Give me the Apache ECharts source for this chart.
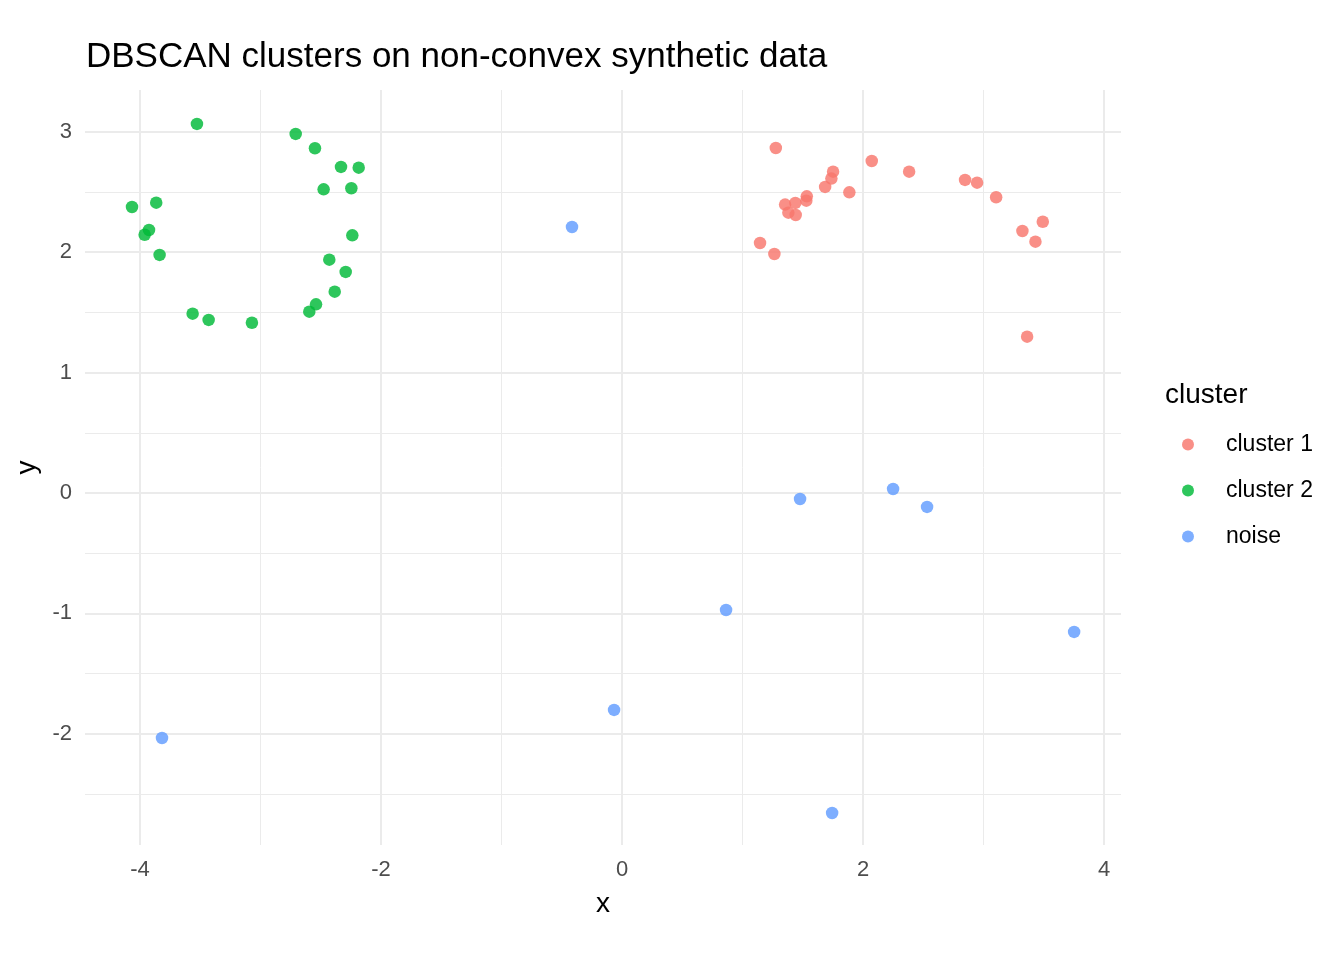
<!DOCTYPE html>
<html>
<head>
<meta charset="utf-8">
<script src="https://cdn.jsdelivr.net/npm/echarts@6/dist/echarts.min.js"></script>
<style>
  html, body { margin: 0; padding: 0; background: #fff; }
  #chart { width: 1344px; height: 960px; }
</style>
</head>
<body>
<div id="chart"></div>
<script>
var chart = echarts.init(document.getElementById('chart'));

// data
let cluster1 = [
    [1.276, 2.865], [2.072, 2.757], [2.382, 2.669], [1.751, 2.669], [1.737, 2.611],
    [1.685, 2.542], [1.886, 2.497], [1.533, 2.464], [1.529, 2.428], [2.846, 2.600],
    [2.946, 2.577], [3.104, 2.456], [1.353, 2.395], [1.438, 2.409], [1.380, 2.328],
    [1.441, 2.309], [1.145, 2.076], [1.264, 1.985], [3.322, 2.176], [3.430, 2.087],
    [3.491, 2.253], [3.361, 1.298]
];
let cluster2 = [
    [-3.527, 3.065], [-2.708, 2.982], [-2.548, 2.863], [-2.332, 2.708], [-2.185, 2.702],
    [-2.476, 2.522], [-2.246, 2.531], [-4.066, 2.375], [-3.865, 2.411], [-3.925, 2.184],
    [-3.961, 2.145], [-3.837, 1.977], [-2.238, 2.140], [-2.429, 1.938], [-2.293, 1.836],
    [-2.384, 1.672], [-2.539, 1.567], [-2.595, 1.506], [-3.563, 1.489], [-3.430, 1.437],
    [-3.071, 1.414]
];
let noise = [
    [-0.415, 2.209], [1.477, -0.050], [2.249, 0.033], [2.531, -0.116], [0.863, -0.972],
    [3.751, -1.154], [-0.066, -1.802], [-3.817, -2.035], [1.743, -2.658]
];
let xTicks = [-4, -2, 0, 2, 4];
let yTicks = [-2, -1, 0, 1, 2, 3];
let xMinor = [-3, -1, 1, 3];
let yMinor = [-2.5, -1.5, -0.5, 0.5, 1.5, 2.5];
let names = ['cluster 1', 'cluster 2', 'noise'];
let colors = ['#F8766D', '#00BA38', '#619CFF'];

let font = 'Liberation Sans, Arial, sans-serif';

let gridLines = [];
xTicks.forEach(v => gridLines.push({ xAxis: v, lineStyle: { width: 2 } }));
yTicks.forEach(v => gridLines.push({ yAxis: v, lineStyle: { width: 2 } }));
xMinor.forEach(v => gridLines.push({ xAxis: v, lineStyle: { width: 1 } }));
yMinor.forEach(v => gridLines.push({ yAxis: v, lineStyle: { width: 1 } }));

function pointSeries(name, data, color) {
    return {
        name: name,
        type: 'scatter',
        data: data,
        symbolSize: 12.5,
        z: 10,
        itemStyle: { color: color, opacity: 0.82 },
        emphasis: { disabled: true }
    };
}

option = {
    backgroundColor: '#ffffff',
    animation: false,
    color: colors,
    textStyle: { fontFamily: font },
    title: [{
        text: 'DBSCAN clusters on non-convex synthetic data',
        left: 86,
        top: 40,
        padding: 0,
        textStyle: { fontFamily: font, fontSize: 35, fontWeight: 'normal', color: '#000' }
    }, {
        text: 'cluster',
        left: 1165,
        top: 381,
        padding: 0,
        textStyle: { fontFamily: font, fontSize: 28, fontWeight: 'normal', color: '#000' }
    }],
    legend: {
        data: names,
        orient: 'vertical',
        left: 1182,
        top: 433,
        padding: 0,
        itemWidth: 12,
        itemHeight: 12,
        itemGap: 25,
        icon: 'circle',
        itemStyle: { opacity: 0.82 },
        selectedMode: false,
        textStyle: { fontFamily: font, fontSize: 23, color: '#000', lineHeight: 21, padding: [0, 0, 0, 27] }
    },
    grid: { left: 85, right: 223, top: 90, bottom: 115, containLabel: false },
    xAxis: {
        type: 'value',
        min: -4.456,
        max: 4.14,
        name: 'x',
        nameLocation: 'middle',
        nameGap: 45,
        nameTextStyle: { fontFamily: font, fontSize: 28, color: '#000' },
        axisLine: { show: false },
        axisTick: { show: false },
        splitLine: { show: false },
        axisLabel: {
            customValues: xTicks,
            margin: 14,
            fontSize: 22,
            color: '#4d4d4d',
            fontFamily: font
        }
    },
    yAxis: {
        type: 'value',
        min: -2.924,
        max: 3.347,
        name: 'y',
        nameLocation: 'middle',
        nameGap: 40,
        nameRotate: 90,
        nameTextStyle: { fontFamily: font, fontSize: 28, color: '#000' },
        axisLine: { show: false },
        axisTick: { show: false },
        splitLine: { show: false },
        axisLabel: {
            customValues: yTicks,
            margin: 13,
            fontSize: 22,
            color: '#4d4d4d',
            fontFamily: font
        }
    },
    series: [{
        name: 'grid',
        type: 'scatter',
        data: [],
        z: 0,
        silent: true,
        markLine: {
            silent: true,
            z: 1,
            symbol: 'none',
            label: { show: false },
            animation: false,
            lineStyle: { color: '#ebebeb', type: 'solid' },
            emphasis: { disabled: true },
            data: gridLines
        }
    },
        pointSeries(names[0], cluster1, colors[0]),
        pointSeries(names[1], cluster2, colors[1]),
        pointSeries(names[2], noise, colors[2])
    ]
};
option.legend.itemGap = 23;
chart.setOption(option);
</script>
</body>
</html>
